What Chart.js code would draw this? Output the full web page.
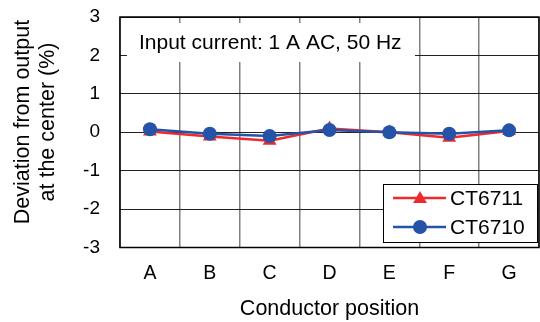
<!DOCTYPE html>
<html>
<head>
<meta charset="utf-8">
<script src="https://cdn.jsdelivr.net/npm/chart.js@4/dist/chart.umd.min.js"></script>
<style>
html,body{margin:0;padding:0;background:#fff;}
#wrap{width:540px;height:322px;position:relative;}
</style>
</head>
<body>
<div id="wrap"><canvas id="c" width="540" height="322"></canvas></div>
<script>
const categories = ['A','B','C','D','E','F','G'];
const ct6711 = [0.02, -0.11, -0.22, 0.10, 0.00, -0.14, 0.03];
const ct6710 = [0.08, -0.04, -0.10, 0.06, 0.00, -0.04, 0.05];
const yTicks = [3, 2, 1, 0, -1, -2, -3];
const noteText = 'Input current: 1 A AC, 50 Hz';
const xTitle = 'Conductor position';
const yTitle = ['Deviation from output', 'at the center (%)'];

const RED = '#ee2a2e';
const BLUE = '#2553a8';
const FONT = 'Liberation Sans, Arial, sans-serif';

const overlay = {
  id: 'overlay',
  beforeDatasetsDraw(chart) {
    const ctx = chart.ctx;
    const a = chart.chartArea;
    ctx.save();
    // note box
    ctx.fillStyle = '#fff';
    ctx.fillRect(a.left + 7, a.top + 6, 288, 39);
    ctx.fillStyle = '#000';
    ctx.font = '21px ' + FONT;
    ctx.textBaseline = 'middle';
    ctx.textAlign = 'left';
    ctx.fillText(noteText, a.left + 19, a.top + 26);
    // legend box
    const lx = 383, ly = 184, lw = 154, lh = 58;
    ctx.fillStyle = '#fff';
    ctx.fillRect(lx, ly, lw, lh);
    ctx.strokeStyle = '#000';
    ctx.lineWidth = 1;
    ctx.strokeRect(lx + 0.5, ly + 0.5, lw, lh);
    // plot border
    ctx.lineWidth = 1.5;
    ctx.strokeStyle = '#000';
    ctx.strokeRect(a.left, a.top, a.right - a.left, a.bottom - a.top);
    // legend items
    const items = [
      {ds: chart.data.datasets[0], y: 198},
      {ds: chart.data.datasets[1], y: 227}
    ];
    items.forEach(it => {
      ctx.strokeStyle = it.ds.borderColor;
      ctx.lineWidth = 2.5;
      ctx.beginPath();
      ctx.moveTo(393, it.y);
      ctx.lineTo(446, it.y);
      ctx.stroke();
      ctx.fillStyle = it.ds.backgroundColor;
      if (it.ds.pointStyle === 'triangle') {
        const r = 8;
        ctx.beginPath();
        ctx.moveTo(420, it.y - r + 1);
        ctx.lineTo(420 + r * 0.866, it.y + r / 2 + 1);
        ctx.lineTo(420 - r * 0.866, it.y + r / 2 + 1);
        ctx.closePath();
        ctx.fill();
      } else {
        ctx.beginPath();
        ctx.arc(420, it.y, 7, 0, Math.PI * 2);
        ctx.fill();
      }
      ctx.fillStyle = '#000';
      ctx.font = '21px ' + FONT;
      ctx.textAlign = 'left';
      ctx.textBaseline = 'middle';
      ctx.fillText(it.ds.label, 450, it.y + 1);
    });
    ctx.restore();
  },
  afterDraw(chart) {
    // y axis title (two lines, rotated)
    const ctx = chart.ctx;
    ctx.save();
    ctx.translate(0, 122);
    ctx.rotate(-Math.PI / 2);
    ctx.fillStyle = '#000';
    ctx.font = '21.5px ' + FONT;
    ctx.textAlign = 'center';
    ctx.textBaseline = 'middle';
    ctx.fillText(yTitle[0], 0, 23);
    ctx.fillText(yTitle[1], 0, 48);
    ctx.restore();
  }
};

new Chart(document.getElementById('c'), {
  type: 'line',
  data: {
    labels: categories,
    datasets: [
      {
        label: 'CT6711', data: ct6711,
        borderColor: RED, backgroundColor: RED,
        borderWidth: 2.5, pointStyle: 'triangle', pointRadius: 8,
        pointBorderWidth: 0, pointHoverRadius: 8, order: 2, tension: 0
      },
      {
        label: 'CT6710', data: ct6710,
        borderColor: BLUE, backgroundColor: BLUE,
        borderWidth: 2.5, pointStyle: 'circle', pointRadius: 7,
        pointBorderWidth: 0, pointHoverRadius: 7, order: 1, tension: 0
      }
    ]
  },
  options: {
    responsive: false,
    animation: false,
    devicePixelRatio: 1,
    layout: { autoPadding: false, padding: { top: 17, right: 1, left: 0, bottom: 0 } },
    plugins: { legend: { display: false }, tooltip: { enabled: false } },
    scales: {
      x: {
        offset: true,
        grid: { offset: true, color: '#808080', lineWidth: 1.5, drawTicks: false },
        border: { display: false },
        ticks: { color: '#000', font: { family: FONT, size: 19.5 }, padding: 14 },
        title: { display: true, text: xTitle, color: '#000', font: { family: FONT, size: 21.5 }, padding: { top: 11, bottom: 0 } },
        afterFit(s) { s.height = 74.5; s.paddingLeft = 0; s.paddingRight = 0; }
      },
      y: {
        min: -3, max: 3,
        afterBuildTicks(s) { s.ticks = yTicks.map(v => ({ value: v })); },
        grid: { color: '#222', lineWidth: 1, drawTicks: false },
        border: { display: false },
        ticks: { color: '#000', font: { family: FONT, size: 19 }, padding: 20 },
        title: { display: false },
        afterFit(s) { s.width = 120; s.paddingTop = 0; s.paddingBottom = 0; }
      }
    }
  },
  plugins: [overlay]
});
</script>
</body>
</html>
